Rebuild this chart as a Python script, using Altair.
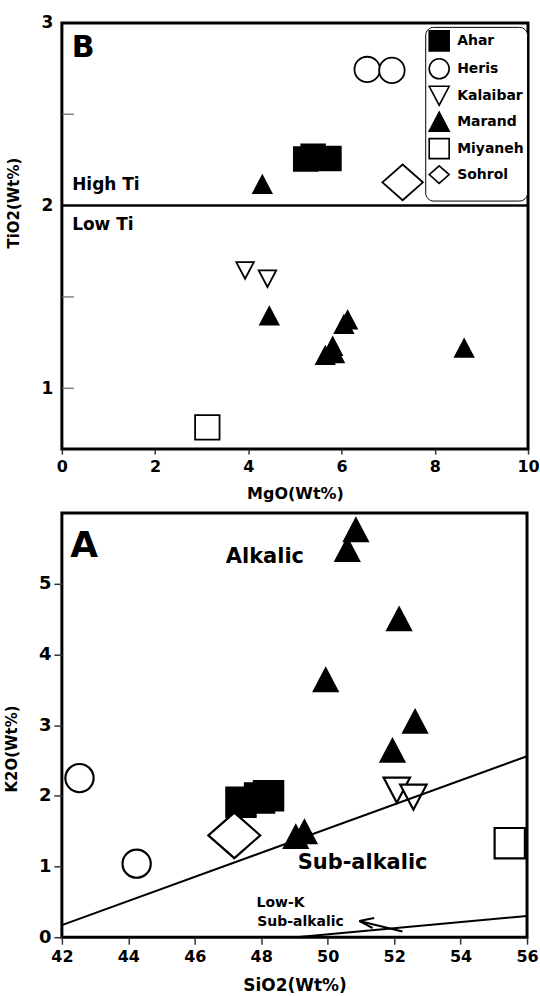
import altair as alt
import pandas as pd

FONT = "DejaVu Sans"

# ---------------- categories / symbols ----------------
SITES = ["Ahar", "Heris", "Kalaibar", "Marand", "Miyaneh", "Sohrol"]
TRI_DOWN = "M-1,-0.95L1,-0.95L0,0.95Z"
TRI_UP = "M0,-0.95L1,0.95L-1,0.95Z"
DIAMOND = "M-1,0L0,-0.88L1,0L0,0.88Z"
SHAPES = ["square", "circle", TRI_DOWN, TRI_UP, "square", DIAMOND]
FILLS = ["black", "white", "white", "black", "white", "white"]
STROKES = ["black"] * 6
SIZES_B = [560, 650, 310, 340, 600, 1650]
SIZES_A = [860, 800, 700, 560, 920, 2700]

# ---------------- panel B : MgO vs TiO2 ----------------
b_site = ["Ahar", "Ahar", "Ahar",
          "Heris", "Heris",
          "Kalaibar", "Kalaibar",
          "Marand", "Marand", "Marand", "Marand", "Marand", "Marand", "Marand", "Marand",
          "Miyaneh",
          "Sohrol"]
b_mgo = [5.23, 5.39, 5.73,
         6.55, 7.08,
         3.93, 4.41,
         4.30, 4.45, 6.13, 6.05, 5.81, 5.65, 5.85, 8.63,
         3.12,
         7.31]
b_tio2 = [2.255, 2.27, 2.258,
          2.745, 2.74,
          1.645, 1.60,
          2.116, 1.396, 1.374, 1.35, 1.23, 1.18, 1.19, 1.22,
          0.786,
          2.127]
b_x_ticks = [0, 2, 4, 6, 8, 10]
b_y_labels = [1, 2, 3]
b_y_inner_ticks = [1, 1.5, 2.5]
b_divider_x = [0, 10]
b_divider_y = [2]

b_text = ["High Ti", "Low Ti"]
b_text_x = [0.22, 0.22]
b_text_y = [2.115, 1.896]
b_letter = ["B"]
b_letter_x = [0.21]
b_letter_y = [2.86]

# ---------------- panel A : SiO2 vs K2O ----------------
a_site = ["Ahar", "Ahar", "Ahar",
          "Heris", "Heris",
          "Kalaibar", "Kalaibar",
          "Marand", "Marand", "Marand", "Marand", "Marand", "Marand", "Marand", "Marand",
          "Miyaneh",
          "Sohrol"]
a_sio2 = [47.39, 47.95, 48.22,
          42.53, 44.25,
          52.08, 52.58,
          50.85, 50.59, 52.15, 49.94, 52.63, 51.95, 49.04, 49.30,
          55.48,
          47.19]
a_k2o = [1.91, 1.97, 2.00,
         2.25, 1.04,
         2.08, 1.98,
         5.76, 5.48, 4.50, 3.64, 3.05, 2.64, 1.42, 1.49,
         1.33,
         1.44]
a_x_ticks = [42, 44, 46, 48, 50, 52, 54, 56]
a_y_ticks = [0, 1, 2, 3, 4, 5]

# boundary lines and arrow (start x, start y, end x, end y)
seg_x = [42.0, 49.05, 52.25, 50.95, 50.95]
seg_y = [0.17, 0.0, 0.08, 0.23, 0.23]
seg_x2 = [56.0, 56.0, 50.95, 51.40, 51.35]
seg_y2 = [2.56, 0.30, 0.23, 0.27, 0.13]

a_big_text = ["Alkalic", "Sub-alkalic"]
a_big_x = [48.11, 51.05]
a_big_y = [5.38, 1.05]
a_small_text = ["Low-K", "Sub-alkalic"]
a_small_x = [47.86, 47.88]
a_small_y = [0.48, 0.215]
a_letter = ["A"]
a_letter_x = [42.25]
a_letter_y = [5.53]

# ---------------- shared encodings ----------------
legend_b = alt.Legend(
    title=" ", titleOrient="bottom", titleFontSize=9, titlePadding=2,
    orient="none", legendX=364, legendY=4, padding=3,
    strokeColor="black", cornerRadius=8, fillColor="white",
    symbolSize=400, symbolStrokeWidth=1.6,
    labelFont=FONT, labelFontWeight="bold", labelFontSize=14, labelColor="black",
    labelOffset=7, rowPadding=0,
)


def shape_enc(legend):
    return alt.Shape("site:N", scale=alt.Scale(domain=SITES, range=SHAPES), legend=legend)


def fill_enc(legend):
    return alt.Fill("site:N", scale=alt.Scale(domain=SITES, range=FILLS), legend=legend)


def stroke_enc(legend):
    return alt.Stroke("site:N", scale=alt.Scale(domain=SITES, range=STROKES), legend=legend)


# ---------------- panel B chart ----------------
W_B, H_B = 467, 427
xB_scale = alt.Scale(domain=[0, 10], nice=False, zero=False)
yB_scale = alt.Scale(domain=[0.667, 3], nice=False, zero=False)
xB_axis = alt.Axis(values=b_x_ticks, title="MgO(Wt%)", tickSize=5,
                   labelPadding=4, labelFontSize=16, labelFlush=False,
                   titleFontSize=16, titlePadding=12)
yB_axis = alt.Axis(values=b_y_labels, title="TiO2(Wt%)", tickSize=0,
                   labelPadding=9, labelFontSize=17,
                   titleFontSize=15, titleX=-40, titleY=180)


def xB(field="MgO"):
    return alt.X(f"{field}:Q", scale=xB_scale, axis=xB_axis)


def yB(field="TiO2"):
    return alt.Y(f"{field}:Q", scale=yB_scale, axis=yB_axis)


size_b = dict(zip(SITES, SIZES_B))
dfB = pd.DataFrame({"site": b_site, "MgO": b_mgo, "TiO2": b_tio2})
dfB["sz"] = dfB["site"].map(size_b)

pointsB = alt.Chart(dfB).mark_point(
    filled=True, strokeWidth=1.8, opacity=1
).encode(
    x=xB(), y=yB(),
    shape=shape_enc(legend_b),
    fill=fill_enc(legend_b),
    stroke=stroke_enc(legend_b),
    size=alt.Size("sz:Q", scale=None),
)

dividerB = alt.Chart(pd.DataFrame({"MgO": [b_divider_x[0]], "MgO2": [b_divider_x[1]], "TiO2": b_divider_y})).mark_rule(
    color="black", strokeWidth=2.5
).encode(x=xB(), x2="MgO2:Q", y=yB())

innerTicksB = alt.Chart(pd.DataFrame({"TiO2": b_y_inner_ticks})).mark_rule(
    color="#666666", strokeWidth=1.2
).encode(x=alt.value(0), x2=alt.value(12), y=yB())

textB = alt.Chart(pd.DataFrame({"t": b_text, "MgO": b_text_x, "TiO2": b_text_y})).mark_text(
    font=FONT, fontWeight="bold", fontSize=17, align="left", baseline="middle", color="black"
).encode(x=xB(), y=yB(), text="t:N")

letterB = alt.Chart(pd.DataFrame({"t": b_letter, "MgO": b_letter_x, "TiO2": b_letter_y})).mark_text(
    font=FONT, fontWeight="bold", fontSize=30, align="left", baseline="middle", color="black"
).encode(x=xB(), y=yB(), text="t:N")

panelB = alt.layer(pointsB, innerTicksB, dividerB, textB, letterB).properties(width=W_B, height=H_B)

# ---------------- panel A chart ----------------
W_A, H_A = 466, 425
xA_scale = alt.Scale(domain=[42, 56], nice=False, zero=False)
yA_scale = alt.Scale(domain=[0, 6], nice=False, zero=False)
xA_axis = alt.Axis(values=a_x_ticks, title="SiO2(Wt%)", tickSize=7,
                   labelPadding=4, labelFontSize=16, labelFlush=False,
                   titleFontSize=17, titlePadding=13)
yA_axis = alt.Axis(values=a_y_ticks, title="K2O(Wt%)", tickSize=8,
                   labelPadding=3, labelFontSize=18,
                   titleFontSize=15, titleX=-42, titleY=236)


def xA(field="SiO2"):
    return alt.X(f"{field}:Q", scale=xA_scale, axis=xA_axis)


def yA(field="K2O"):
    return alt.Y(f"{field}:Q", scale=yA_scale, axis=yA_axis)


size_a = dict(zip(SITES, SIZES_A))
dfA = pd.DataFrame({"site": a_site, "SiO2": a_sio2, "K2O": a_k2o})
dfA["sz"] = dfA["site"].map(size_a)

pointsA = alt.Chart(dfA).mark_point(
    filled=True, strokeWidth=2.2, opacity=1
).encode(
    x=xA(), y=yA(),
    shape=shape_enc(None),
    fill=fill_enc(None),
    stroke=stroke_enc(None),
    size=alt.Size("sz:Q", scale=None),
)

segA = alt.Chart(pd.DataFrame({"SiO2": seg_x, "K2O": seg_y, "SiO2b": seg_x2, "K2Ob": seg_y2})).mark_rule(
    color="black", strokeWidth=2
).encode(x=xA(), x2="SiO2b:Q", y=yA(), y2="K2Ob:Q")

bigTextA = alt.Chart(pd.DataFrame({"t": a_big_text, "SiO2": a_big_x, "K2O": a_big_y})).mark_text(
    font=FONT, fontWeight="bold", fontSize=21, align="center", baseline="middle", color="black"
).encode(x=xA(), y=yA(), text="t:N")

smallTextA = alt.Chart(pd.DataFrame({"t": a_small_text, "SiO2": a_small_x, "K2O": a_small_y})).mark_text(
    font=FONT, fontWeight="bold", fontSize=14, align="left", baseline="middle", color="black"
).encode(x=xA(), y=yA(), text="t:N")

letterA = alt.Chart(pd.DataFrame({"t": a_letter, "SiO2": a_letter_x, "K2O": a_letter_y})).mark_text(
    font=FONT, fontWeight="bold", fontSize=36, align="left", baseline="middle", color="black"
).encode(x=xA(), y=yA(), text="t:N")

panelA = alt.layer(pointsA, segA, bigTextA, smallTextA, letterA).properties(width=W_A, height=H_A)

# ---------------- compose ----------------
chart = alt.vconcat(panelB, panelA, spacing=7).resolve_scale(
    x="independent", y="independent", shape="independent", fill="independent", stroke="independent"
).resolve_legend(
    shape="independent", fill="independent", stroke="independent"
).properties(
    padding={"left": 3, "top": 11, "right": -1, "bottom": 0},
    background="white",
).configure_view(
    stroke="black", strokeWidth=3
).configure_axis(
    domain=False, grid=False, tickColor="#333333", tickWidth=1.5,
    labelFont=FONT, labelFontWeight="bold", labelColor="black",
    titleFont=FONT, titleFontWeight="bold", titleColor="black",
)

chart.save("out.html", embed_options={"renderer": "svg", "actions": False})
